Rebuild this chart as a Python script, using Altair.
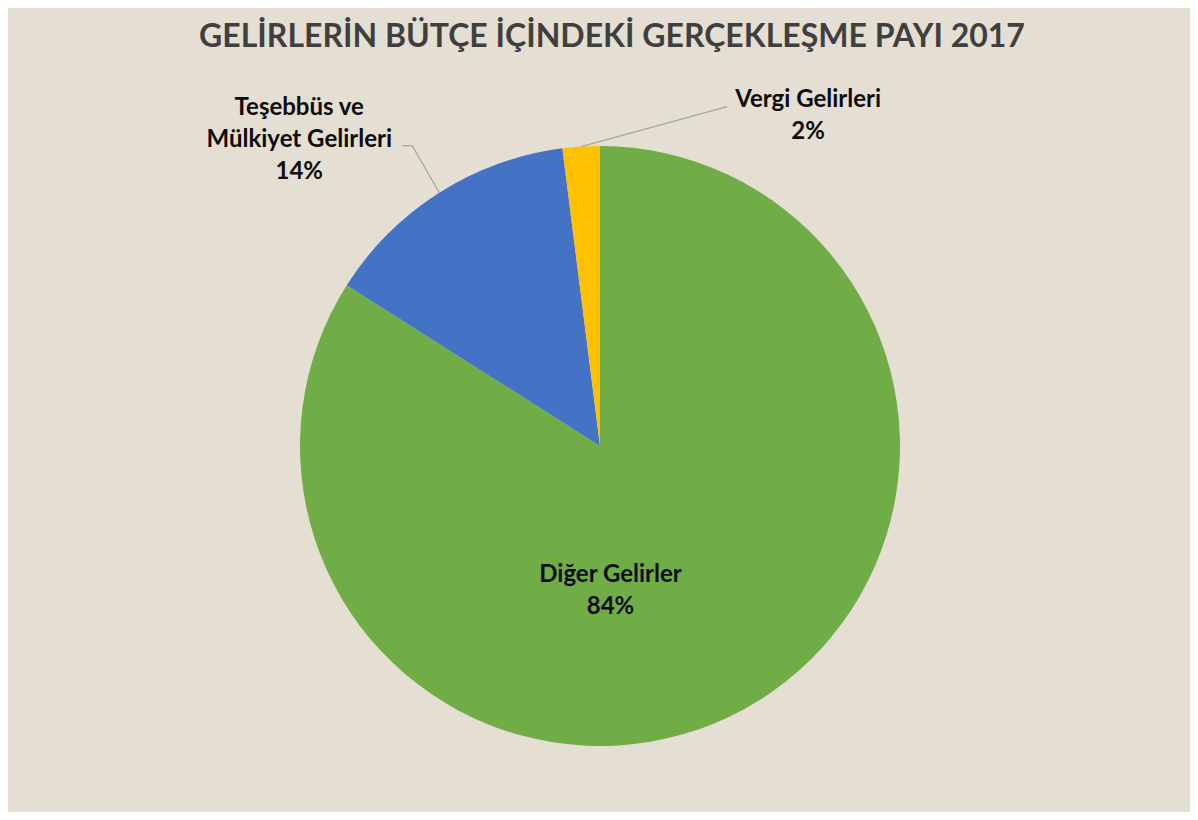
import altair as alt
import pandas as pd

# ---- data ----
categories = ["Diğer Gelirler", "Teşebbüs ve Mülkiyet Gelirleri", "Vergi Gelirleri"]
label_text = ["Diğer Gelirler", "Teşebbüs ve\nMülkiyet Gelirleri", "Vergi Gelirleri"]
shares = [84, 14, 2]
colors = ["#70AD47", "#4472C4", "#FFC000"]
title_text = "GELİRLERİN BÜTÇE İÇİNDEKİ GERÇEKLEŞME PAYI 2017"

df = pd.DataFrame({
    "kategori": categories,
    "etiket": label_text,
    "pay": shares,
    "sira": list(range(len(categories))),
})

# ---- layout ----
W, H = 1182, 734
PAD_TOP = 70
CX, CY, R = 592, 368, 300
FONT = "Lato"
BG = "#E5DED2"
LH = 32

base = (
    alt.Chart(df)
    .transform_window(cum="sum(pay)", sort=[alt.SortField("sira")])
    .transform_joinaggregate(total="sum(pay)")
    .transform_calculate(
        mid="2*PI*(datum.cum - datum.pay/2)/datum.total",
    )
    .transform_calculate(
        px=f"{CX} + {R}*sin(datum.mid)",
        py=f"{CY} - {R}*cos(datum.mid)",
        txt="datum.etiket + '\\n' + format(datum.pay/datum.total, '.0%')",
    )
)

pie = alt.Chart(df).mark_arc(radius=R).encode(
    theta=alt.Theta("pay:Q", stack=True),
    color=alt.Color("kategori:N", scale=alt.Scale(domain=categories, range=colors), legend=None),
    order=alt.Order("sira:Q"),
    x=alt.value(CX),
    y=alt.value(CY),
)

X = alt.X("px:Q", scale=None, axis=None)
Y = alt.Y("py:Q", scale=None, axis=None)


def leader(cat, dx, dy, from_dx=0, from_dy=0):
    return (
        base.transform_filter(alt.datum.kategori == cat)
        .transform_calculate(
            ax=f"datum.px + {from_dx}", ay=f"datum.py + {from_dy}",
            bx=f"datum.px + {dx}", by=f"datum.py + {dy}",
        )
        .mark_rule(color="#A5A5A5", strokeWidth=1.3)
        .encode(
            x=alt.X("ax:Q", scale=None, axis=None),
            y=alt.Y("ay:Q", scale=None, axis=None),
            x2="bx:Q",
            y2="by:Q",
        )
    )


def label(cat, dx, dy, nlines):
    # centre the whole multi-line block on (dx, dy)
    return (
        base.transform_filter(alt.datum.kategori == cat)
        .mark_text(
            dx=dx, dy=dy - (nlines - 1) * LH / 2, font=FONT, fontWeight="bold", fontSize=24,
            lineBreak="\n", lineHeight=LH, color="#0D0D0D",
            align="center", baseline="middle",
        )
        .encode(x=X, y=Y, text="txt:N")
    )


layers = [
    pie,
    leader(categories[2], 146, -40),
    leader(categories[1], -27, -47),
    leader(categories[1], -37, -47, -27, -47),
    label(categories[0], -134, -118, 2),
    label(categories[1], -140, -53, 3),
    label(categories[2], 227, -31, 2),
]

chart = (
    alt.layer(*layers)
    .properties(
        width=W,
        height=H,
        autosize="none",
        padding={"top": PAD_TOP, "left": 0, "right": 0, "bottom": 0},
        background=BG,
        title=alt.TitleParams(
            text=title_text, font=FONT, fontSize=32, fontWeight="bold",
            color="#3F3F3F", anchor="middle", dx=13, offset=24,
        ),
    )
    .configure_view(strokeWidth=0)
)

chart.save("out.html", embed_options={"renderer": "svg", "actions": False})
